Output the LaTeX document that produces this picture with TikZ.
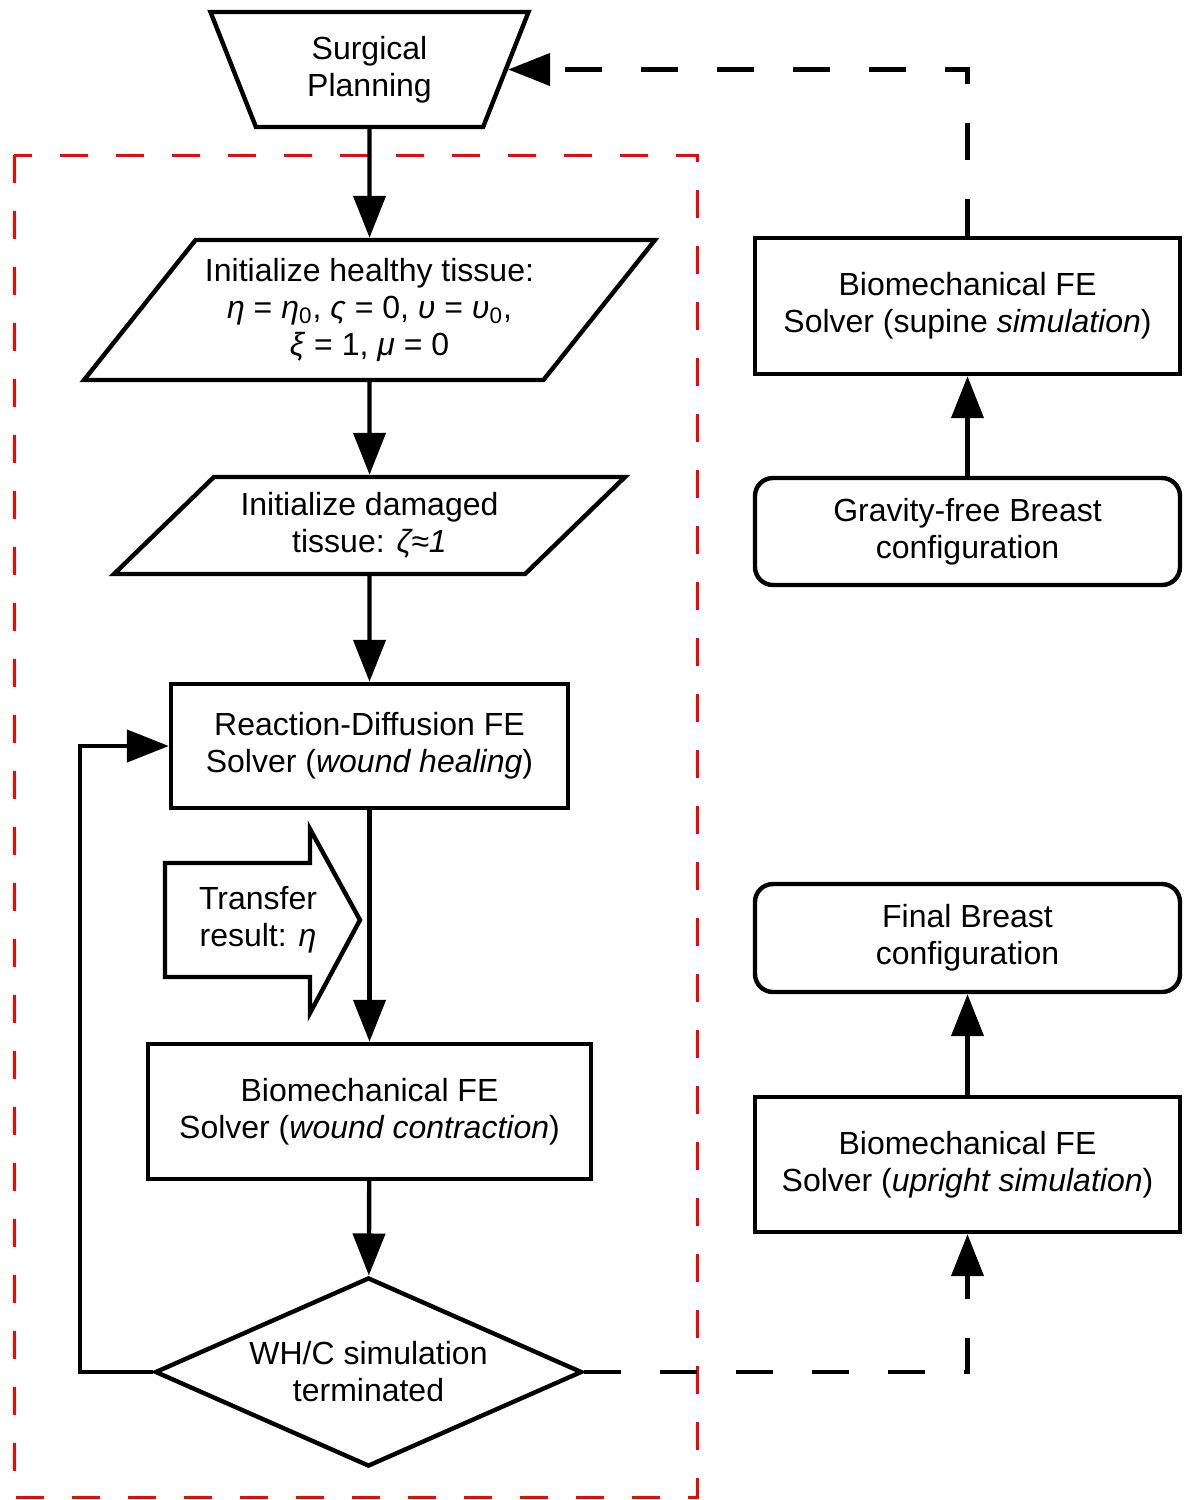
\documentclass[tikz,border=0pt]{standalone}
\usepackage{fontspec}
\setmainfont{Liberation Sans}
\usetikzlibrary{shapes,arrows.meta,calc,positioning}
\newcommand{\flowfont}{\fontsize{16}{18.5}\selectfont}

\begin{document}
\begin{tikzpicture}[x=0.5pt, y=-0.5pt,
    every node/.style={font=\flowfont, align=center, line width=2.2pt, inner sep=0pt},
    box/.style={draw, rectangle, minimum width=212.5pt},
    roundbox/.style={box, rounded corners=9pt},
    io/.style={draw, trapezium, trapezium stretches body},
    flow/.style={line width=2.2pt, -{Triangle[length=21pt,width=16pt]}},
    dflow/.style={flow, dash pattern=on 18.5pt off 19.5pt},
    redzone/.style={red, line width=1.5pt, dash pattern=on 14pt off 14pt}]
    \useasboundingbox (0,0) rectangle (1189,1500);

    \draw[redzone] (14,155) rectangle (697,1497);

    \node[io, shape border rotate=180, trapezium angle=55.8, minimum width=159pt, minimum height=57.5pt] (plan) at (369.5,69.5) {Surgical\\Planning};
    \node[io, trapezium left angle=42.8, trapezium right angle=137.2, minimum width=285.5pt, minimum height=70pt] (healthy) at (369.5,310) {Initialize healthy tissue:\\\textit{η} = \textit{η}\textsubscript{0}, \textit{ς} = 0, \textit{υ} = \textit{υ}\textsubscript{0},\\\textit{ξ} = 1, \textit{μ} = 0};
    \node[io, trapezium left angle=33.4, trapezium right angle=146.6, minimum width=255.5pt, minimum height=48.5pt] (damaged) at (369.5,525.5) {Initialize damaged\\tissue: \textit{ζ≈1}};
    \node[box, minimum width=198.5pt, minimum height=62pt] (rd) at (369.5,746) {Reaction-Diffusion FE\\Solver (\textit{wound healing})};
    \node[box, minimum width=221.5pt, minimum height=67.5pt] (bmw) at (369.5,1111.5) {Biomechanical FE\\Solver (\textit{wound contraction})};
    \node[draw, diamond, aspect=2.26, minimum width=213.5pt, minimum height=94.5pt] (whc) at (368.5,1372) {WH/C simulation\\terminated};
    \draw[line width=2.2pt] (165,863) -- (310,863) -- (310,829) -- (360,920) -- (310,1013) -- (310,977) -- (165,977) -- cycle;
    \node (xfer) at (258,920) {Transfer\\result: \textit{η}};

    \node[box, minimum height=68pt] (supine) at (967.5,306) {Biomechanical FE\\Solver (supine \textit{simulation})};
    \node[roundbox, minimum height=53.5pt] (grav) at (967.5,531.5) {Gravity-free Breast\\configuration};
    \node[roundbox, minimum height=54pt] (final) at (967.5,938) {Final Breast\\configuration};
    \node[box, minimum height=67.5pt] (upright) at (967.5,1164.5) {Biomechanical FE\\Solver (\textit{upright simulation})};

    \draw[flow] (plan) -- (healthy);
    \draw[flow] (healthy) -- (damaged);
    \draw[flow] (damaged) -- (rd);
    \draw[flow] (rd) -- (bmw);
    \draw[flow] (bmw) -- (whc);
    \draw[flow] (whc.west) -- ++(-73,0) |- (rd.west);
    \draw[dflow] (whc.east) -| (upright.south);
    \draw[dflow] (supine.north) |- (plan.east);
    \draw[flow] (grav) -- (supine);
    \draw[flow] (upright) -- (final);
\end{tikzpicture}
\end{document}
